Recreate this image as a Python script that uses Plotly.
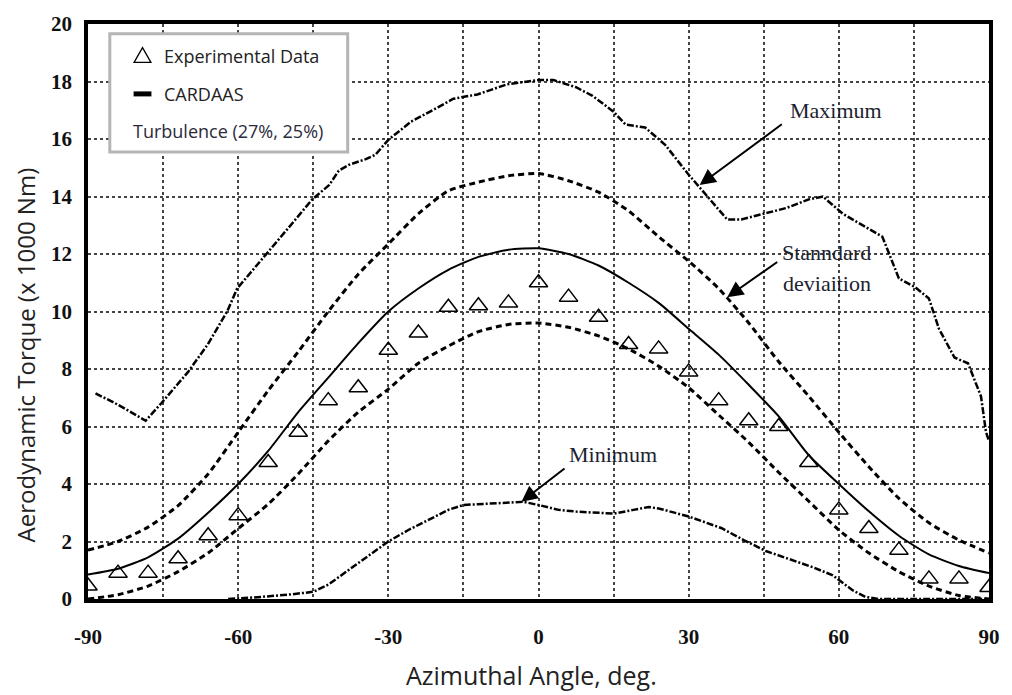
import plotly.graph_objects as go

# ---------------- data ----------------
exp_angle = [-90, -84, -78, -72, -66, -60, -54, -48, -42, -36, -30, -24, -18, -12, -6, 0,
             6, 12, 18, 24, 30, 36, 42, 48, 54, 60, 66, 72, 78, 84, 90]
exp_torque = [0.45, 0.9, 0.9, 1.4, 2.2, 2.9, 4.75, 5.8, 6.9, 7.35, 8.65, 9.25, 10.15, 10.2, 10.3, 11.0,
              10.5, 9.8, 8.85, 8.7, 7.9, 6.9, 6.2, 6.0, 4.75, 3.1, 2.45, 1.7, 0.7, 0.7, 0.4]

model_angle = [-90, -84, -78, -72, -66, -60, -54, -48, -42, -36, -30, -24, -18, -12, -6, 0,
               6, 12, 18, 24, 30, 36, 42, 48, 54, 60, 66, 72, 78, 84, 90]
cardaas = [0.85, 1.05, 1.45, 2.1, 3.0, 4.0, 5.15, 6.5, 7.7, 8.9, 10.0, 10.8, 11.45, 11.9, 12.15, 12.2,
           12.0, 11.6, 11.0, 10.3, 9.4, 8.5, 7.45, 6.35, 5.0, 4.0, 3.05, 2.2, 1.55, 1.15, 0.9]
std_upper = [1.7, 2.0, 2.5, 3.25, 4.35, 5.8, 7.25, 8.6, 10.0, 11.3, 12.35, 13.4, 14.2, 14.5, 14.72, 14.8,
             14.55, 14.15, 13.5, 12.6, 11.75, 10.8, 9.6, 8.25, 7.05, 5.8, 4.6, 3.5, 2.65, 2.05, 1.6]
std_lower = [0.0, 0.15, 0.45, 0.95, 1.6, 2.45, 3.3, 4.35, 5.5, 6.5, 7.3, 8.2, 8.8, 9.3, 9.55, 9.6,
             9.45, 9.15, 8.7, 8.1, 7.35, 6.4, 5.45, 4.4, 3.4, 2.4, 1.6, 0.95, 0.45, 0.12, 0.0]

max_angle = [-88.5, -85, -81.9, -78.5, -75.4, -70, -66.1, -62.2, -60.2, -54.3, -50, -45.2, -41.8, -39.9,
             -37.9, -34.5, -32.6, -30, -25.5, -20.1, -17, -12.2, -6.3, 0, 3, 7.5, 10.8, 15, 17.4,
             21.3, 25.3, 29.8, 33.2, 37.7, 40.5, 49.5, 54, 56.8, 60.8, 64.1, 68.7, 72, 75.2, 78,
             80, 83.1, 85.8, 88.4, 89.4, 90]
max_torque = [7.15, 6.85, 6.55, 6.2, 6.8, 7.9, 8.85, 10.0, 10.8, 12.0, 12.9, 13.9, 14.4, 14.9,
              15.1, 15.3, 15.45, 15.97, 16.6, 17.1, 17.4, 17.55, 17.9, 18.05, 18.05, 17.8, 17.5, 16.95, 16.5,
              16.4, 15.8, 14.8, 14.1, 13.2, 13.2, 13.6, 13.9, 14.0, 13.4, 13.06, 12.6, 11.15, 10.85, 10.45,
              9.4, 8.4, 8.2, 7.05, 5.8, 5.5]

min_angle = [-62, -57, -50, -45, -42, -40, -35, -30, -26, -22, -18, -15, -9, -3, 0.5, 4, 7.5, 15,
             19, 22, 24, 30, 36.5, 41, 45.4, 50, 54.9, 58.8, 62.8, 65.3, 68, 90]
min_torque = [0.0, 0.05, 0.15, 0.25, 0.5, 0.75, 1.35, 2.0, 2.4, 2.75, 3.1, 3.27, 3.32, 3.38, 3.25, 3.1,
              3.04, 2.97, 3.1, 3.2, 3.15, 2.87, 2.47, 2.05, 1.67, 1.4, 1.1, 0.82, 0.3, 0.07, 0.0, 0.0]

x_ticks = [-90, -75, -60, -45, -30, -15, 0, 15, 30, 45, 60, 75, 90]
x_ticktext = ["-90", "", "-60", "", "-30", "", "0", "", "30", "", "60", "", "90"]
y_ticks = [0, 2, 4, 6, 8, 10, 12, 14, 16, 18, 20]

legend_labels = ["Experimental Data", "CARDAAS", "Turbulence (27%, 25%)"]

# ---------------- figure ----------------
fig = go.Figure()

dashdot = "7px,2px,2px,2px"
fig.add_trace(go.Scatter(x=max_angle, y=max_torque, mode="lines",
                         line=dict(color="black", width=2.5, dash=dashdot), showlegend=False))
fig.add_trace(go.Scatter(x=min_angle, y=min_torque, mode="lines",
                         line=dict(color="black", width=2.5, dash=dashdot), showlegend=False))
fig.add_trace(go.Scatter(x=model_angle, y=std_upper, mode="lines",
                         line=dict(color="black", width=3, dash="6px,4px", shape="spline", smoothing=0.6),
                         showlegend=False))
fig.add_trace(go.Scatter(x=model_angle, y=std_lower, mode="lines",
                         line=dict(color="black", width=3, dash="6px,4px", shape="spline", smoothing=0.6),
                         showlegend=False))
fig.add_trace(go.Scatter(x=model_angle, y=cardaas, mode="lines",
                         line=dict(color="black", width=2, shape="spline", smoothing=0.6),
                         showlegend=False))
fig.add_trace(go.Scatter(x=exp_angle, y=exp_torque, mode="markers",
                         marker=dict(symbol="triangle-up-open", size=16, color="black",
                                     line=dict(width=1.5, color="black")),
                         showlegend=False))

tick_font = dict(family="Liberation Serif", size=21, color="#111", weight="bold")
fig.update_xaxes(range=[-90, 90], tickvals=x_ticks, ticktext=x_ticktext, tickfont=tick_font,
                 showgrid=True, gridcolor="#444", gridwidth=1.5, griddash="dot",
                 showline=True, linecolor="black", linewidth=3.5, mirror=True,
                 ticks="outside", ticklen=16, tickcolor="rgba(0,0,0,0)", zeroline=False)
fig.update_yaxes(range=[0, 20], tickvals=y_ticks, tickfont=tick_font,
                 showgrid=True, gridcolor="#444", gridwidth=1.5, griddash="dot",
                 showline=True, linecolor="black", linewidth=3.5, mirror=True,
                 ticks="outside", ticklen=8, tickcolor="rgba(0,0,0,0)", zeroline=False)

# helpers for pixel -> paper for the legend box
L, R, T, B = 88, 997, 15, 599
def px(xp):
    return (xp - L) / (R - L)
def py(yp):
    return (B - yp) / (B - T)

shapes = [
    dict(type="rect", xref="paper", yref="paper", x0=px(110), x1=px(350), y0=py(145), y1=py(25),
         line=dict(color="#b5b5b5", width=3), fillcolor="white", layer="above"),
    dict(type="path", xref="paper", yref="paper",
         path=f"M {px(134.5)} {py(54)} L {px(151.5)} {py(54)} L {px(143)} {py(39)} Z",
         line=dict(color="black", width=1.3), fillcolor="white", layer="above"),
    dict(type="line", xref="paper", yref="paper", x0=px(134), x1=px(152), y0=py(86), y1=py(86),
         line=dict(color="black", width=5), layer="above"),
]

leg_font = dict(family="Open Sans", size=18, color="#222")
annotations = [
    dict(xref="paper", yref="paper", x=px(163), y=py(47), text=legend_labels[0], showarrow=False,
         xanchor="left", yanchor="middle", font=leg_font),
    dict(xref="paper", yref="paper", x=px(163), y=py(86), text=legend_labels[1], showarrow=False,
         xanchor="left", yanchor="middle", font=leg_font),
    dict(xref="paper", yref="paper", x=px(131), y=py(124), text=legend_labels[2], showarrow=False,
         xanchor="left", yanchor="middle", font=dict(family="Open Sans", size=18, color="#2a2a3a")),
]

note_font = dict(family="Liberation Serif", size=22, color="#1c2230")
# texts
annotations += [
    dict(x=59.4, y=17.0, text="Maximum", showarrow=False, font=note_font),
    dict(x=57.6, y=12.05, text="Stanndard", showarrow=False, font=note_font),
    dict(x=57.6, y=10.97, text="deviaition", showarrow=False, font=note_font),
    dict(x=14.8, y=5.03, text="Minimum", showarrow=False, font=note_font),
]
# arrows
for tip, tail in [((32.2, 14.4), (48.9, 16.55)),
                  ((37.7, 10.5), (48.0, 11.76)),
                  ((-3.4, 3.38), (5.5, 4.58))]:
    annotations.append(dict(x=tip[0], y=tip[1], ax=tail[0], ay=tail[1], axref="x", ayref="y",
                            text="", showarrow=True, arrowhead=2, arrowsize=1.6, arrowwidth=2,
                            arrowcolor="black"))

title_font = dict(family="Open Sans", size=25, color="#222")
annotations += [
    dict(xref="paper", yref="paper", x=px(535), y=py(676), text="Azimuthal Angle, deg.",
         showarrow=False, font=title_font, xanchor="center", yanchor="middle"),
    dict(xref="paper", yref="paper", x=px(25), y=py(351), text="Aerodynamic Torque (x 1000 Nm)",
         showarrow=False, font=dict(family="Open Sans", size=24, color="#222"), textangle=-90,
         xanchor="center", yanchor="middle"),
]

fig.update_layout(width=1012, height=695, margin=dict(l=88, r=15, t=15, b=96),
                  paper_bgcolor="white", plot_bgcolor="white",
                  shapes=shapes, annotations=annotations, showlegend=False)

fig.write_html("out.html")
